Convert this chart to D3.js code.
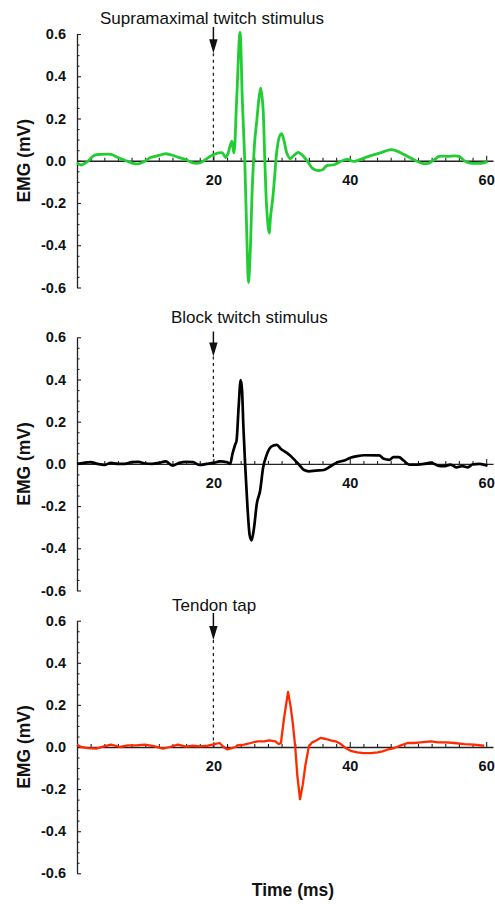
<!DOCTYPE html>
<html>
<head>
<meta charset="utf-8">
<script src="https://cdn.jsdelivr.net/npm/d3@7"></script>
<style>
  html, body { margin: 0; padding: 0; background: #fff; }
  svg { display: block; }
  text { font-family: "Liberation Sans", Arial, Helvetica, sans-serif; }
</style>
</head>
<body>
<svg id="chart" width="495" height="904"></svg>
<script>
// ---------------- DATA ----------------
const panelTitles = ["Supramaximal twitch stimulus", "Block twitch stimulus", "Tendon tap"];
const stimulusTime = 20;
const xTickValues = d3.range(0, 61, 2);
const xLabelValues = [20, 40, 60];
const yTickValues = d3.range(-12, 13).map(i => +(i * 0.05).toFixed(2));
const yLabelValues = [-0.6, -0.4, -0.2, 0, 0.2, 0.4, 0.6];
const yAxisTitle = "EMG (mV)";
const xAxisTitle = "Time (ms)";

// Supramaximal twitch (green)
const greenT = [0, 0.6, 1.5, 2.5, 3.5, 5.0, 6.0, 7.2, 8.2, 9.0, 9.8, 10.8, 12.0, 12.9, 13.8, 15.0, 16.0, 17.0, 18.0, 18.6, 19.5, 20.5, 21.3, 21.8, 22.1, 22.7, 23.0, 23.4, 23.9, 24.25, 24.6, 24.9, 25.15, 25.4, 25.7, 26.06, 26.36, 26.7, 26.94, 27.24, 27.53, 27.82, 28.17, 28.4, 28.7, 29.0, 29.3, 29.7, 30.0, 30.37, 30.76, 31.25, 31.83, 32.47, 33.06, 33.8, 34.5, 35.16, 36.0, 36.6, 37.7, 38.9, 39.66, 40.6, 42.1, 43.57, 44.8, 46.0, 46.75, 48.0, 49.4, 50.66, 51.6, 52.4, 53.1, 54.3, 56.0, 56.8, 57.5, 59.7, 60.2];
const greenV = [-0.01, -0.02, -0.005, 0.025, 0.03, 0.03, 0.015, 0.0, -0.012, -0.015, -0.005, 0.015, 0.025, 0.033, 0.028, 0.015, 0.005, -0.01, -0.01, 0.0, 0.02, 0.035, 0.038, 0.015, 0.03, 0.093, 0.037, 0.28, 0.607, 0.28, 0.0, -0.354, -0.577, -0.434, -0.13, 0.093, 0.188, 0.30, 0.344, 0.268, 0.013, -0.226, -0.343, -0.258, -0.179, -0.067, 0.045, 0.116, 0.128, 0.093, 0.037, 0.01, 0.026, 0.04, 0.026, -0.003, -0.035, -0.045, -0.043, -0.024, -0.019, 0.0, 0.006, -0.003, 0.013, 0.029, 0.041, 0.053, 0.048, 0.029, 0.005, -0.013, -0.011, 0.005, 0.021, 0.021, 0.021, 0.0, -0.01, -0.01, -0.003];

// Block twitch (black)
const blackT = [0, 1, 2, 3, 4, 5, 6, 7, 8, 9, 10, 11, 12, 13, 14, 15, 16, 17, 18, 19, 20, 21, 22, 22.45, 22.8, 23.2, 23.4, 23.7, 24.0, 24.2, 24.4, 24.65, 25.0, 25.3, 25.6, 25.97, 26.36, 26.85, 27.3, 27.7, 28.2, 28.8, 29.3, 29.9, 30.6, 31.25, 31.9, 32.6, 33.3, 34.0, 35.0, 36.2, 37.2, 38.2, 39.2, 40.1, 41.1, 42.1, 44.3, 45.0, 45.8, 46.4, 47.2, 47.9, 48.7, 49.9, 50.9, 51.9, 52.9, 53.8, 54.8, 55.6, 56.5, 57.3, 58.0, 59.0, 60.2];
const blackV = [0.0, 0.005, 0.008, 0.0, -0.005, 0.005, 0.0, 0.0, 0.008, 0.01, 0.002, 0.0, 0.005, 0.012, -0.008, 0.005, 0.01, 0.008, -0.005, 0.0, 0.005, 0.012, 0.008, 0.0, 0.048, 0.092, 0.111, 0.27, 0.397, 0.35, 0.175, 0.0, -0.206, -0.333, -0.362, -0.30, -0.19, -0.127, -0.016, 0.032, 0.071, 0.087, 0.09, 0.071, 0.056, 0.04, 0.019, -0.005, -0.029, -0.035, -0.032, -0.029, -0.011, 0.008, 0.016, 0.029, 0.037, 0.041, 0.04, 0.024, 0.019, 0.032, 0.032, 0.016, -0.003, -0.003, 0.0, 0.006, -0.008, -0.011, -0.003, -0.016, -0.011, -0.016, -0.003, 0.0, -0.008];

// Tendon tap (red)
const redT = [0, 0.6, 1.6, 2.8, 3.8, 5.0, 6.3, 7.5, 8.7, 9.9, 11.1, 12.6, 13.6, 14.8, 16.0, 17.0, 18.0, 19.2, 20.2, 20.9, 21.5, 22.0, 22.7, 23.3, 23.5, 24.5, 25.5, 26.45, 27.4, 28.2, 29.1, 29.6, 29.9, 30.37, 30.95, 31.35, 31.64, 32.0, 32.3, 32.7, 33.1, 33.5, 34.0, 34.5, 35.0, 35.7, 36.5, 37.2, 37.9, 38.7, 39.4, 40.1, 41.1, 42.1, 43.1, 44.1, 44.8, 45.5, 46.5, 47.5, 48.5, 49.4, 50.4, 51.9, 52.9, 54.1, 55.3, 56.8, 58.2, 59.7];
const redV = [0.011, 0.0, -0.005, -0.008, 0.002, 0.011, 0.0, 0.008, 0.008, 0.011, 0.005, -0.008, 0.0, 0.011, 0.002, 0.006, 0.003, 0.006, 0.014, 0.019, 0.0, -0.011, -0.005, 0.0, 0.008, 0.011, 0.019, 0.027, 0.027, 0.032, 0.027, 0.014, 0.019, 0.139, 0.262, 0.187, 0.115, 0.0, -0.133, -0.248, -0.18, -0.085, 0.003, 0.022, 0.03, 0.043, 0.038, 0.032, 0.027, 0.014, -0.005, -0.018, -0.026, -0.029, -0.029, -0.026, -0.021, -0.013, -0.005, 0.008, 0.019, 0.019, 0.022, 0.027, 0.022, 0.022, 0.019, 0.014, 0.011, 0.006];

const seriesT = [greenT, blackT, redT];
const seriesV = [greenV, blackV, redV];
const seriesColors = ["#22cc33", "#000000", "#ff2a00"];

// ---------------- LAYOUT ----------------
const svg = d3.select("#chart");
svg.append("rect").attr("width", 495).attr("height", 904).attr("fill", "#fff");

const x = d3.scaleLinear().domain([0, 61]).range([77, 493]);
const panels = [
  { top: 34, bottom: 287.5, titleX: 100, titleY: 23.5, arrowStart: 27 },
  { top: 337.3, bottom: 590.5, titleX: 171, titleY: 323, arrowStart: 331.5 },
  { top: 620.7, bottom: 873.3, titleX: 172, titleY: 610.5, arrowStart: 613 }
];
const curves = [d3.curveCatmullRom.alpha(0.5), d3.curveMonotoneX, d3.curveLinear];
const widths = [2.8, 2.7, 2.3];

panels.forEach((p, i) => {
  const y = d3.scaleLinear().domain([-0.6, 0.6]).range([p.bottom, p.top]);
  const g = svg.append("g");

  // y axis
  const yAxis = d3.axisLeft(y)
    .tickValues(yTickValues)
    .tickSizeInner(-4)
    .tickSizeOuter(0)
    .tickPadding(11)
    .tickFormat(d => yLabelValues.some(v => Math.abs(v - d) < 1e-6) ? d.toFixed(1) : "");
  const ya = g.append("g").attr("transform", `translate(${x(0)},0)`).call(yAxis);
  ya.select(".domain").attr("stroke", "#222").attr("stroke-width", 1.3);
  ya.selectAll(".tick line").attr("stroke", "#222").attr("stroke-width", 1.1)
    .attr("x2", d => yLabelValues.some(v => Math.abs(v - d) < 1e-6) ? 4 : 2.5);
  ya.selectAll(".tick text").attr("font-size", 14.5).attr("font-weight", "bold")
    .attr("fill", "#111").style("font-family", '"Liberation Sans", Arial, sans-serif');

  // x axis at y=0
  const xAxis = d3.axisBottom(x)
    .tickValues(xTickValues)
    .tickSizeInner(-3)
    .tickSizeOuter(0)
    .tickPadding(14)
    .tickFormat(d => xLabelValues.includes(d) ? String(d) : "");
  const xa = g.append("g").attr("transform", `translate(0,${y(0)})`).call(xAxis);
  xa.select(".domain").attr("stroke", "#222").attr("stroke-width", 1.3);
  xa.selectAll(".tick line").attr("stroke", "#222").attr("stroke-width", 1.1)
    .attr("y2", d => xLabelValues.includes(d) ? -5 : (d === 0 ? 0 : -3));
  xa.selectAll(".tick text").attr("font-size", 14.5).attr("font-weight", "bold")
    .attr("fill", "#111").style("font-family", '"Liberation Sans", Arial, sans-serif');

  // y axis title
  g.append("text")
    .attr("transform", `translate(30,${(p.top + p.bottom) / 2}) rotate(-90)`)
    .attr("text-anchor", "middle")
    .attr("font-size", 17.5).attr("font-weight", "bold").attr("fill", "#111")
    .text(yAxisTitle);

  // panel title
  g.append("text")
    .attr("x", p.titleX).attr("y", p.titleY)
    .attr("font-size", 17).attr("fill", "#111")
    .text(panelTitles[i]);

  // stimulus arrow + dashed line
  const sx = x(stimulusTime);
  const tip = y(0.6) + 19.3;
  g.append("line").attr("x1", sx).attr("x2", sx).attr("y1", tip).attr("y2", y(0))
    .attr("stroke", "#222").attr("stroke-width", 1.3).attr("stroke-dasharray", "3,3.5");
  g.append("line").attr("x1", sx).attr("x2", sx).attr("y1", p.arrowStart).attr("y2", tip - 10)
    .attr("stroke", "#111").attr("stroke-width", 1.5);
  g.append("path")
    .attr("d", `M${sx - 4.2},${tip - 14} L${sx + 4.2},${tip - 14} L${sx},${tip} Z`)
    .attr("fill", "#111");

  // trace
  const data = seriesT[i].map((t, k) => [t, seriesV[i][k]]);
  g.append("path")
    .datum(data)
    .attr("fill", "none")
    .attr("stroke", seriesColors[i])
    .attr("stroke-width", widths[i])
    .attr("stroke-linejoin", "round")
    .attr("d", d3.line().x(d => x(d[0])).y(d => y(d[1])).curve(curves[i]));
});

// x axis title
svg.append("text")
  .attr("x", 293).attr("y", 896)
  .attr("text-anchor", "middle")
  .attr("font-size", 17.5).attr("font-weight", "bold").attr("fill", "#111")
  .text(xAxisTitle);
</script>
</body>
</html>
